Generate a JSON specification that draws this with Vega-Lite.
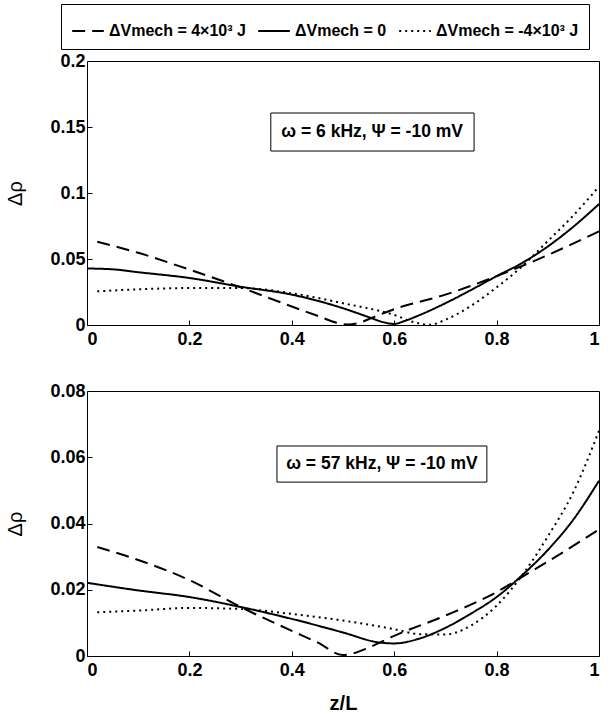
{
  "$schema": "https://vega.github.io/schema/vega-lite/v6.json",
  "background": "white",
  "padding": {"left": 5, "top": 3, "right": 5, "bottom": 5},
  "bounds": "flush",
  "spacing": 66,
  "config": {
    "font": "Liberation Sans",
    "view": {"stroke": "black", "strokeWidth": 1},
    "axis": {
      "grid": false, "domain": false, "tickColor": "black", "tickSize": -5,
      "labelFont": "Liberation Sans", "labelFontWeight": "bold", "labelFontSize": 18, "labelColor": "black",
      "titleFont": "Liberation Sans", "titleFontSize": 20, "titleColor": "black", "titleFontWeight": "normal",
      "labelPadding": 7
    },
    "axisX": {"labelPadding": 10},
    "legend": {
      "labelFont": "Liberation Sans", "labelFontSize": 16, "labelFontWeight": "bold", "labelColor": "black"
    }
  },
  "datasets": {
    "curves": [
      {"panel": "top", "case": "p", "x": 0.02, "y": 0.063},
      {"panel": "top", "case": "p", "x": 0.1, "y": 0.0547},
      {"panel": "top", "case": "p", "x": 0.2, "y": 0.042},
      {"panel": "top", "case": "p", "x": 0.3, "y": 0.0285},
      {"panel": "top", "case": "p", "x": 0.4, "y": 0.014},
      {"panel": "top", "case": "p", "x": 0.45, "y": 0.007},
      {"panel": "top", "case": "p", "x": 0.49, "y": 0.0015},
      {"panel": "top", "case": "p", "x": 0.51, "y": 0.0003},
      {"panel": "top", "case": "p", "x": 0.53, "y": 0.0015},
      {"panel": "top", "case": "p", "x": 0.56, "y": 0.006},
      {"panel": "top", "case": "p", "x": 0.6, "y": 0.012},
      {"panel": "top", "case": "p", "x": 0.7, "y": 0.023},
      {"panel": "top", "case": "p", "x": 0.8, "y": 0.037},
      {"panel": "top", "case": "p", "x": 0.9, "y": 0.053},
      {"panel": "top", "case": "p", "x": 1.0, "y": 0.071},

      {"panel": "top", "case": "z", "x": 0.0, "y": 0.0428},
      {"panel": "top", "case": "z", "x": 0.05, "y": 0.0422},
      {"panel": "top", "case": "z", "x": 0.1, "y": 0.040},
      {"panel": "top", "case": "z", "x": 0.2, "y": 0.0356},
      {"panel": "top", "case": "z", "x": 0.3, "y": 0.029},
      {"panel": "top", "case": "z", "x": 0.4, "y": 0.023},
      {"panel": "top", "case": "z", "x": 0.5, "y": 0.0127},
      {"panel": "top", "case": "z", "x": 0.55, "y": 0.006},
      {"panel": "top", "case": "z", "x": 0.58, "y": 0.002},
      {"panel": "top", "case": "z", "x": 0.6, "y": 0.0008},
      {"panel": "top", "case": "z", "x": 0.62, "y": 0.003},
      {"panel": "top", "case": "z", "x": 0.65, "y": 0.0076},
      {"panel": "top", "case": "z", "x": 0.7, "y": 0.0165},
      {"panel": "top", "case": "z", "x": 0.75, "y": 0.0265},
      {"panel": "top", "case": "z", "x": 0.8, "y": 0.037},
      {"panel": "top", "case": "z", "x": 0.85, "y": 0.047},
      {"panel": "top", "case": "z", "x": 0.9, "y": 0.0595},
      {"panel": "top", "case": "z", "x": 0.95, "y": 0.0745},
      {"panel": "top", "case": "z", "x": 1.0, "y": 0.0916},

      {"panel": "top", "case": "m", "x": 0.02, "y": 0.0255},
      {"panel": "top", "case": "m", "x": 0.1, "y": 0.027},
      {"panel": "top", "case": "m", "x": 0.2, "y": 0.028},
      {"panel": "top", "case": "m", "x": 0.3, "y": 0.028},
      {"panel": "top", "case": "m", "x": 0.4, "y": 0.024},
      {"panel": "top", "case": "m", "x": 0.5, "y": 0.0165},
      {"panel": "top", "case": "m", "x": 0.6, "y": 0.0076},
      {"panel": "top", "case": "m", "x": 0.64, "y": 0.002},
      {"panel": "top", "case": "m", "x": 0.67, "y": 0.0002},
      {"panel": "top", "case": "m", "x": 0.7, "y": 0.004},
      {"panel": "top", "case": "m", "x": 0.75, "y": 0.0145},
      {"panel": "top", "case": "m", "x": 0.8, "y": 0.0285},
      {"panel": "top", "case": "m", "x": 0.85, "y": 0.0445},
      {"panel": "top", "case": "m", "x": 0.9, "y": 0.0636},
      {"panel": "top", "case": "m", "x": 0.95, "y": 0.083},
      {"panel": "top", "case": "m", "x": 1.0, "y": 0.105},

      {"panel": "bottom", "case": "p", "x": 0.02, "y": 0.0329},
      {"panel": "bottom", "case": "p", "x": 0.1, "y": 0.029},
      {"panel": "bottom", "case": "p", "x": 0.2, "y": 0.0229},
      {"panel": "bottom", "case": "p", "x": 0.3, "y": 0.0148},
      {"panel": "bottom", "case": "p", "x": 0.4, "y": 0.0076},
      {"panel": "bottom", "case": "p", "x": 0.45, "y": 0.0041},
      {"panel": "bottom", "case": "p", "x": 0.5, "y": 0.0003},
      {"panel": "bottom", "case": "p", "x": 0.52, "y": 0.0008},
      {"panel": "bottom", "case": "p", "x": 0.55, "y": 0.0025},
      {"panel": "bottom", "case": "p", "x": 0.6, "y": 0.0061},
      {"panel": "bottom", "case": "p", "x": 0.7, "y": 0.0122},
      {"panel": "bottom", "case": "p", "x": 0.8, "y": 0.0193},
      {"panel": "bottom", "case": "p", "x": 0.85, "y": 0.0239},
      {"panel": "bottom", "case": "p", "x": 0.9, "y": 0.0285},
      {"panel": "bottom", "case": "p", "x": 1.0, "y": 0.0382},

      {"panel": "bottom", "case": "z", "x": 0.0, "y": 0.0221},
      {"panel": "bottom", "case": "z", "x": 0.1, "y": 0.0198},
      {"panel": "bottom", "case": "z", "x": 0.2, "y": 0.0178},
      {"panel": "bottom", "case": "z", "x": 0.3, "y": 0.0148},
      {"panel": "bottom", "case": "z", "x": 0.4, "y": 0.0112},
      {"panel": "bottom", "case": "z", "x": 0.5, "y": 0.0071},
      {"panel": "bottom", "case": "z", "x": 0.57, "y": 0.0041},
      {"panel": "bottom", "case": "z", "x": 0.6, "y": 0.0038},
      {"panel": "bottom", "case": "z", "x": 0.65, "y": 0.0053},
      {"panel": "bottom", "case": "z", "x": 0.7, "y": 0.0085},
      {"panel": "bottom", "case": "z", "x": 0.75, "y": 0.0128},
      {"panel": "bottom", "case": "z", "x": 0.8, "y": 0.0178},
      {"panel": "bottom", "case": "z", "x": 0.85, "y": 0.0244},
      {"panel": "bottom", "case": "z", "x": 0.9, "y": 0.032},
      {"panel": "bottom", "case": "z", "x": 0.95, "y": 0.0412},
      {"panel": "bottom", "case": "z", "x": 1.0, "y": 0.0529},

      {"panel": "bottom", "case": "m", "x": 0.02, "y": 0.0132},
      {"panel": "bottom", "case": "m", "x": 0.1, "y": 0.0137},
      {"panel": "bottom", "case": "m", "x": 0.2, "y": 0.0145},
      {"panel": "bottom", "case": "m", "x": 0.3, "y": 0.0142},
      {"panel": "bottom", "case": "m", "x": 0.4, "y": 0.0127},
      {"panel": "bottom", "case": "m", "x": 0.5, "y": 0.0107},
      {"panel": "bottom", "case": "m", "x": 0.6, "y": 0.0081},
      {"panel": "bottom", "case": "m", "x": 0.65, "y": 0.0066},
      {"panel": "bottom", "case": "m", "x": 0.7, "y": 0.0065},
      {"panel": "bottom", "case": "m", "x": 0.75, "y": 0.0092},
      {"panel": "bottom", "case": "m", "x": 0.8, "y": 0.0152},
      {"panel": "bottom", "case": "m", "x": 0.85, "y": 0.0244},
      {"panel": "bottom", "case": "m", "x": 0.9, "y": 0.0361},
      {"panel": "bottom", "case": "m", "x": 0.95, "y": 0.0495},
      {"panel": "bottom", "case": "m", "x": 1.0, "y": 0.068}
    ],
    "one": [{}]
  },
  "resolve": {"scale": {"strokeDash": "shared"}, "legend": {"strokeDash": "shared"}},
  "vconcat": [
    {
      "width": 512, "height": 264,
      "layer": [
        {
          "data": {"name": "curves"},
          "transform": [{"filter": "datum.panel === 'top'"}],
          "mark": {"type": "line", "stroke": "black", "strokeWidth": 2, "clip": true, "interpolate": "monotone"},
          "encoding": {
            "x": {"field": "x", "type": "quantitative", "scale": {"domain": [0, 1], "nice": false},
                  "axis": {"values": [0, 0.2, 0.4, 0.6, 0.8, 1], "format": "~g", "title": null}},
            "y": {"field": "y", "type": "quantitative", "scale": {"domain": [0, 0.2], "nice": false},
                  "axis": {"values": [0, 0.05, 0.1, 0.15, 0.2], "format": "~g", "title": "Δρ", "titlePadding": 24}},
            "strokeDash": {
              "field": "case", "type": "nominal",
              "scale": {"domain": ["p", "z", "m"], "range": [[13, 7], [1, 0], [2, 4]]},
              "legend": {
                "orient": "none", "legendX": -26, "legendY": -57, "direction": "horizontal",
                "title": null, "symbolType": "stroke", "symbolSize": 1000, "symbolStrokeWidth": 2,
                "symbolStrokeColor": "black", "columnPadding": 8, "labelOffset": 4,
                "strokeColor": "black", "padding": 10, "fillColor": "white",
                "labelExpr": "datum.value === 'p' ? 'ΔVmech = 4×10³ J' : datum.value === 'z' ? 'ΔVmech = 0' : 'ΔVmech = -4×10³ J'"
              }
            }
          }
        },
        {
          "data": {"name": "one"},
          "mark": {"type": "rect", "fill": "white", "stroke": "black", "strokeWidth": 1},
          "encoding": {"x": {"datum": 0.359}, "x2": {"datum": 0.756}, "y": {"datum": 0.1606}, "y2": {"datum": 0.1318}}
        },
        {
          "data": {"name": "one"},
          "mark": {"type": "text", "font": "Liberation Sans", "fontWeight": "bold", "fontSize": 17.5, "color": "black", "align": "center", "baseline": "middle"},
          "encoding": {"x": {"datum": 0.557}, "y": {"datum": 0.146}, "text": {"value": "ω = 6 kHz, Ψ = -10 mV"}}
        }
      ]
    },
    {
      "width": 512, "height": 265,
      "layer": [
        {
          "data": {"name": "curves"},
          "transform": [{"filter": "datum.panel === 'bottom'"}],
          "mark": {"type": "line", "stroke": "black", "strokeWidth": 2, "clip": true, "interpolate": "monotone"},
          "encoding": {
            "x": {"field": "x", "type": "quantitative", "scale": {"domain": [0, 1], "nice": false},
                  "axis": {"values": [0, 0.2, 0.4, 0.6, 0.8, 1], "format": "~g", "title": "z/L", "titleFontWeight": "bold", "titlePadding": 14}},
            "y": {"field": "y", "type": "quantitative", "scale": {"domain": [0, 0.08], "nice": false},
                  "axis": {"values": [0, 0.02, 0.04, 0.06, 0.08], "format": "~g", "title": "Δρ", "titlePadding": 24}},
            "strokeDash": {"field": "case", "type": "nominal"}
          }
        },
        {
          "data": {"name": "one"},
          "mark": {"type": "rect", "fill": "white", "stroke": "black", "strokeWidth": 1},
          "encoding": {"x": {"datum": 0.371}, "x2": {"datum": 0.781}, "y": {"datum": 0.0634}, "y2": {"datum": 0.0525}}
        },
        {
          "data": {"name": "one"},
          "mark": {"type": "text", "font": "Liberation Sans", "fontWeight": "bold", "fontSize": 17.5, "color": "black", "align": "center", "baseline": "middle"},
          "encoding": {"x": {"datum": 0.576}, "y": {"datum": 0.058}, "text": {"value": "ω = 57 kHz, Ψ = -10 mV"}}
        }
      ]
    }
  ]
}
